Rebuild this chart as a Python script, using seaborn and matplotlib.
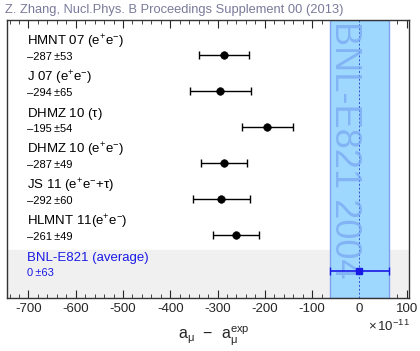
import matplotlib
matplotlib.use('Agg')
import matplotlib.pyplot as plt
from matplotlib.ticker import MultipleLocator
import seaborn as sns
import pandas as pd

names = ['HMNT 07 (e$^{+}$e$^{-}$)', 'J 07 (e$^{+}$e$^{-}$)', 'DHMZ 10 ($\\tau$)',
         'DHMZ 10 (e$^{+}$e$^{-}$)', 'JS 11 (e$^{+}$e$^{-}$+$\\tau$)', 'HLMNT 11(e$^{+}$e$^{-}$)']
values = [-287, -294, -195, -287, -292, -261]
errors = [53, 65, 54, 49, 60, 49]
exp_name = 'BNL-E821 (average)'
exp_value = 0
exp_error = 63

sns.set_style('ticks')
plt.rcParams['font.family'] = ['Liberation Sans', 'DejaVu Sans']
plt.rcParams['mathtext.fontset'] = 'custom'
plt.rcParams['mathtext.rm'] = 'Liberation Sans'
plt.rcParams['mathtext.it'] = 'Liberation Sans'
plt.rcParams['axes.unicode_minus'] = False

df = pd.DataFrame({'name': names, 'value': values, 'error': errors, 'row': range(len(names))})
exp_row = len(names)

fig = plt.figure(figsize=(4.2, 3.51), dpi=100)
ax = fig.add_axes([0.017, 0.151, 0.957, 0.792])

# experimental band
ax.axvspan(exp_value - exp_error, exp_value + exp_error, color='#9fd8ff', ec='#7fa0f0', lw=1, zorder=1)
ax.axvline(exp_value, color='#3050d0', lw=0.7, ls=(0, (2, 2)), zorder=2)
ax.axhspan(exp_row - 0.58, 7.5, color='#f0f0f0', zorder=0)
ax.text(-32, -0.93, 'BNL-E821 2004', rotation=-90, ha='center', va='top',
        fontsize=26, color='#78a8f2', alpha=0.75, zorder=2)

# theory predictions
ax.errorbar(df['value'], df['row'], xerr=df['error'], fmt='none', ecolor='black',
            elinewidth=1, capsize=3, capthick=1, zorder=3)
sns.scatterplot(data=df, x='value', y='row', color='black', s=30, edgecolor='black',
                ax=ax, zorder=4, legend=False)
ax.errorbar([exp_value], [exp_row], xerr=[exp_error], fmt='s', color='#1a1ae6', ms=5,
            elinewidth=1.2, capsize=3, capthick=1, zorder=4)

for i, (n, v, e) in enumerate(zip(names, values, errors)):
    ax.text(-703, i - 0.36, n, fontsize=9.5, va='center', ha='left', color='black')
    ax.text(-703, i + 0.06, f'\u2013{abs(v)}\u2009\u00b1{e}', fontsize=8, va='center', ha='left', color='black')
ax.text(-703, exp_row - 0.36, exp_name, fontsize=9.5, va='center', ha='left', color='#1a1ae6')
ax.text(-703, exp_row + 0.06, f'{exp_value}\u2009\u00b1{exp_error}', fontsize=8, va='center', ha='left', color='#1a1ae6')

ax.set_xlim(-745, 105)
ax.set_ylim(6.75, -0.97)
ax.set_yticks([])
ax.xaxis.set_major_locator(MultipleLocator(100))
ax.xaxis.set_minor_locator(MultipleLocator(20))
ax.tick_params(axis='x', which='both', direction='in', top=True, bottom=True, labelsize=9.5)
ax.tick_params(axis='x', which='major', length=6)
ax.tick_params(axis='x', which='minor', length=3)
ax.set_xlabel('')
ax.set_ylabel('')
for s in ax.spines.values():
    s.set_visible(True)
    s.set_color('#333333')
    s.set_linewidth(1)

fig.text(0.925, 0.07, '$\\times\\,10^{-11}$', fontsize=9.5, ha='center', va='center')
fig.text(0.51, 0.045, 'a$_{\\mu}$  \u2212  a$_{\\mu}^{\\mathrm{exp}}$', fontsize=11.5, ha='center', va='center')
fig.text(0.012, 0.972, 'Z. Zhang, Nucl.Phys. B Proceedings Supplement 00 (2013)',
         fontsize=9.3, color='#7a7a9a', ha='left', va='center')

fig.savefig('out.png', dpi=100)
